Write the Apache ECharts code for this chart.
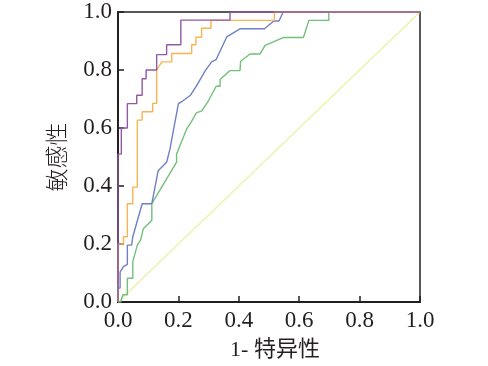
<!DOCTYPE html>
<html><head><meta charset="utf-8">
<script src="https://cdn.jsdelivr.net/npm/echarts@6/dist/echarts.min.js"></script>
<style>html,body{margin:0;padding:0;background:#fff}#c{width:488px;height:366px}</style>
</head><body><div id="c"></div>
<script>
var xTicks = [0, 0.2, 0.4, 0.6, 0.8, 1.0];
var yTicks = [0, 0.2, 0.4, 0.6, 0.8, 1.0];
var xAxisName = '1- 特异性';
var yAxisName = '敏感性';

var purpleFPR = [0, 0, 0.011, 0.011, 0.031, 0.031, 0.062, 0.062, 0.08, 0.08, 0.093, 0.093, 0.128, 0.128, 0.161, 0.161, 0.208, 0.208, 0.371, 0.371, 1];
var purpleTPR = [0, 0.51, 0.51, 0.60, 0.60, 0.684, 0.684, 0.713, 0.713, 0.77, 0.77, 0.80, 0.80, 0.853, 0.853, 0.887, 0.887, 0.972, 0.972, 1.0, 1.0];

var orangeFPR = [0, 0, 0.018, 0.018, 0.031, 0.031, 0.049, 0.049, 0.064, 0.064, 0.08, 0.08, 0.115, 0.115, 0.128, 0.128, 0.145, 0.178, 0.178, 0.244, 0.244, 0.258, 0.258, 0.277, 0.277, 0.308, 0.308, 0.518, 0.518, 1];
var orangeTPR = [0, 0.2, 0.2, 0.225, 0.225, 0.339, 0.339, 0.396, 0.396, 0.627, 0.627, 0.656, 0.656, 0.685, 0.685, 0.80, 0.828, 0.828, 0.857, 0.857, 0.887, 0.887, 0.913, 0.913, 0.944, 0.944, 0.971, 0.971, 1.0, 1.0];

var blueFPR = [0, 0, 0.007, 0.007, 0.018, 0.031, 0.031, 0.045, 0.049, 0.08, 0.112, 0.133, 0.161, 0.172, 0.2, 0.214, 0.24, 0.26, 0.288, 0.31, 0.325, 0.36, 0.404, 0.485, 0.516, 0.533, 0.547, 1];
var blueTPR = [0, 0.048, 0.048, 0.103, 0.122, 0.13, 0.196, 0.196, 0.225, 0.339, 0.339, 0.453, 0.482, 0.527, 0.684, 0.693, 0.713, 0.745, 0.796, 0.828, 0.836, 0.914, 0.942, 0.942, 0.969, 0.969, 1.0, 1.0];

var greenFPR = [0, 0.009, 0.016, 0.031, 0.031, 0.049, 0.049, 0.064, 0.075, 0.084, 0.112, 0.112, 0.194, 0.194, 0.227, 0.244, 0.26, 0.277, 0.299, 0.325, 0.338, 0.338, 0.371, 0.404, 0.406, 0.437, 0.47, 0.487, 0.547, 0.614, 0.632, 0.698, 0.698, 1];
var greenTPR = [0, 0, 0.025, 0.025, 0.082, 0.082, 0.139, 0.196, 0.214, 0.253, 0.282, 0.339, 0.482, 0.51, 0.596, 0.624, 0.653, 0.658, 0.693, 0.744, 0.744, 0.767, 0.798, 0.798, 0.83, 0.855, 0.855, 0.885, 0.912, 0.912, 0.971, 0.971, 1.0, 1.0];

var refFPR = [0, 1];
var refTPR = [0, 1];

function pairs(xs, ys) { return xs.map(function (x, i) { return [x, ys[i]]; }); }

var chart = echarts.init(document.getElementById('c'), null, { renderer: 'canvas' });
var axisColor = '#231f20';
var labelFont = 'Liberation Serif';
function mk(name, xs, ys, color, w) {
  return { name: name, type: 'line', data: pairs(xs, ys), showSymbol: false, symbol: 'none',
    lineStyle: { color: color, width: w }, animation: false, clip: true, silent: true };
}
chart.setOption({
  animation: false,
  grid: { left: 118, right: 68, top: 12, bottom: 62, show: true, borderColor: axisColor, borderWidth: 1.5, backgroundColor: 'transparent' },
  xAxis: {
    type: 'value', min: 0, max: 1, interval: 0.2,
    name: xAxisName, nameLocation: 'middle', nameGap: 37,
    nameTextStyle: { fontFamily: 'Liberation Serif, "Noto Sans CJK SC"', fontSize: 22, color: '#231f20', padding: [0, 0, 0, 12] },
    axisLine: { show: true, lineStyle: { color: axisColor, width: 2 } },
    axisTick: { show: true, inside: true, length: 6, lineStyle: { color: axisColor, width: 1.5 } },
    splitLine: { show: false },
    axisLabel: { fontFamily: labelFont, fontSize: 23, color: '#231f20', margin: 7,
      formatter: function (v) { return v.toFixed(1); } }
  },
  yAxis: {
    type: 'value', min: 0, max: 1, interval: 0.2,
    name: yAxisName, nameLocation: 'middle', nameGap: 50,
    nameTextStyle: { fontFamily: '"Noto Sans CJK SC"', fontSize: 23, fontWeight: 300, color: '#231f20' },
    axisLine: { show: true, lineStyle: { color: axisColor, width: 2 } },
    axisTick: { show: true, inside: true, length: 6, lineStyle: { color: axisColor, width: 1.5 } },
    splitLine: { show: false },
    axisLabel: { fontFamily: labelFont, fontSize: 23, color: '#231f20', margin: 6,
      formatter: function (v) { return v.toFixed(1); } }
  },
  series: [
    mk('ref', refFPR, refTPR, '#eaf2a4', 1.3),
    mk('green', greenFPR, greenTPR, '#72c07a', 1.4),
    mk('blue', blueFPR, blueTPR, '#6f80c6', 1.4),
    mk('orange', orangeFPR, orangeTPR, '#f6b452', 1.4),
    mk('purple', purpleFPR, purpleTPR, '#9159a6', 1.4)
  ]
});
</script></body></html>
